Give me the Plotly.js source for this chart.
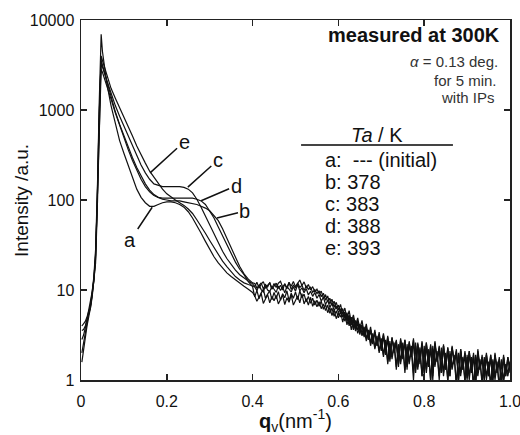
<!DOCTYPE html>
<html>
<head>
<meta charset="utf-8">
<script src="https://cdn.plot.ly/plotly-3.0.1.min.js"></script>
<style>html,body{margin:0;padding:0;background:#fff;}#chart{width:520px;height:435px;}</style>
</head>
<body>
<div id="chart"></div>
<script>
// scattering vector q_v (nm^-1), shared by all curves
const q = [0.002,0.006,0.010,0.014,0.018,0.022,0.026,0.030,0.034,0.038,0.042,0.045,0.047,
0.05,0.06,0.07,0.08,0.09,0.10,0.11,0.12,0.13,0.14,0.15,0.16,0.17,0.18,0.19,0.20,0.21,0.22,0.23,0.24,0.25,0.26,0.27,0.28,0.29,0.30,0.31,0.32,0.33,0.34,0.35,0.36,0.37,0.38,0.39,0.40,
0.405,0.410,0.415,0.420,0.425,0.430,0.435,0.440,0.445,0.450,
0.455,0.460,0.465,0.470,0.475,0.480,0.485,0.490,0.495,0.500,
0.505,0.510,0.515,0.520,0.525,0.530,0.535,0.540,0.545,0.550,
0.555,0.560,0.565,0.570,0.575,0.580,0.585,0.590,0.595,0.600,
0.605,0.610,0.615,0.620,0.625,0.630,0.635,0.640,0.645,0.650,
0.655,0.660,0.665,0.670,0.675,0.680,0.685,0.690,0.695,0.700,
0.705,0.710,0.715,0.720,0.725,0.730,0.735,0.740,0.745,0.750,
0.755,0.760,0.765,0.770,0.775,0.780,0.785,0.790,0.795,0.800,
0.805,0.810,0.815,0.820,0.825,0.830,0.835,0.840,0.845,0.850,
0.855,0.860,0.865,0.870,0.875,0.880,0.885,0.890,0.895,0.900,
0.905,0.910,0.915,0.920,0.925,0.930,0.935,0.940,0.945,0.950,
0.955,0.960,0.965,0.970,0.975,0.980,0.985,0.990,0.995,1.000];

// a: initial
const I_a = [1.58,2.24,3.16,3.98,5.01,6.31,8.91,12.6,22.4,100,1000,3980,6920,
4470,2000,1120,692,457,331,240,174,132,107,93.3,85.1,85.1,89.1,93.3,95.5,95.5,93.3,89.1,83.2,74.1,63.1,52.5,42.7,34.7,28.2,23.4,20.0,17.4,15.5,14.1,12.9,12.0,11.0,10.2,9.4,
8.6,7.5,8.3,9.2,7.1,8.0,8.9,7.2,8.5,7.6,
8.7,7.0,8.0,8.8,6.9,8.2,7.3,8.9,6.8,7.8,
8.6,7.2,9.1,7.0,8.0,6.8,8.3,6.6,7.6,6.5,
7.4,6.2,7.0,5.9,6.8,5.5,6.3,5.1,5.9,4.9,
5.8,4.4,5.4,4.1,5.1,3.6,4.6,3.5,4.3,3.2,
4.1,3.0,3.8,2.8,3.6,2.5,3.4,2.4,3.2,2.1,
3.2,1.9,2.9,1.6,3.0,2.0,2.6,1.4,2.8,1.7,
2.7,1.3,2.5,1.8,2.9,1.2,2.4,1.5,2.6,1.1,
2.5,1.4,2.3,1.0,2.6,1.6,2.2,1.2,2.4,1.3,
2.2,1.1,2.3,1.5,2.0,0.95,2.1,1.3,1.9,1.0,
2.0,1.2,1.8,0.9,2.1,1.3,1.7,1.0,1.9,1.1,
1.8,0.95,1.9,1.2,1.6,0.9,1.8,1.1,1.7,1.3];
// b: Ta = 378 K
const I_b = [3.98,4.17,4.47,5.01,5.62,6.61,8.91,13.2,25.1,100,794,2510,3550,
3160,2090,1350,955,692,513,389,295,229,182,151,129,115,107,102,100,97.7,97.7,97.7,95.5,93.3,91.2,89.1,85.1,81.3,75.9,67.6,58.9,47.9,37.2,28.8,22.4,18.2,15.1,13.2,12.0,
11.8,10.5,11.2,12.0,10.3,11.5,10.8,12.1,10.2,11.0,
11.9,10.4,11.3,10.0,11.7,10.6,12.2,10.1,11.4,10.5,
12.0,10.7,11.3,9.9,11.1,10.2,10.7,9.4,10.1,9.1,
9.8,8.4,9.2,7.7,8.6,7.0,7.9,6.4,7.3,6.0,
6.9,5.4,6.3,4.8,5.9,4.4,5.3,4.0,4.9,3.7,
4.6,3.3,4.2,3.0,3.9,2.7,3.6,2.5,3.4,2.3,
3.3,2.1,3.1,1.8,2.9,2.2,2.7,1.6,2.9,1.9,
2.8,1.5,2.6,1.9,2.8,1.4,2.5,1.7,2.7,1.3,
2.6,1.5,2.4,1.2,2.7,1.7,2.3,1.3,2.5,1.4,
2.3,1.2,2.4,1.6,2.1,1.1,2.2,1.4,2.0,1.15,
2.1,1.3,1.9,1.0,2.2,1.4,1.8,1.1,2.0,1.2,
1.9,1.05,2.0,1.3,1.7,1.0,1.9,1.2,1.8,1.4];
// c: Ta = 383 K
const I_c = [2.82,3.16,3.80,4.79,5.62,7.08,9.55,14.1,28.2,126,794,2240,3160,
3020,2140,1510,1120,851,661,513,398,309,245,200,170,151,145,141,141,141,141,141,138,132,120,102,83.2,66.1,52.5,41.7,33.1,26.9,22.4,19.1,16.6,14.8,13.5,12.6,11.7,
10.9,12.2,10.5,11.6,12.4,10.6,11.3,12.0,10.4,11.8,
10.7,11.9,12.5,10.8,11.6,10.3,12.1,11.0,12.4,10.9,
11.8,12.9,11.2,12.3,10.6,11.5,10.0,10.9,9.5,10.2,
9.1,9.7,8.1,8.9,7.4,8.1,6.8,7.5,6.2,6.8,
5.7,6.2,4.9,5.6,4.3,5.0,3.9,4.6,3.6,4.2,
3.3,3.9,2.9,3.6,2.6,3.3,2.3,3.1,2.1,2.9,
1.9,2.8,1.6,2.7,1.8,2.6,1.4,2.5,1.6,2.6,
1.3,2.5,1.6,2.4,1.2,2.6,1.4,2.3,1.1,2.4,
1.3,2.2,1.0,2.4,1.5,2.1,1.1,2.3,1.2,2.0,
1.0,2.1,1.4,1.9,0.9,2.0,1.2,1.8,1.0,1.9,
1.1,1.8,0.85,1.9,1.2,1.7,0.95,1.8,1.1,1.6,
0.9,1.7,1.1,1.6,0.85,1.7,1.0,1.5,1.2,1.6];
// d: Ta = 388 K
const I_d = [2.00,2.63,3.55,4.47,5.50,6.76,8.91,13.2,24.0,100,708,2000,2820,
2630,1910,1320,933,676,490,363,275,214,170,141,123,112,107,105,105,105,105,107,107,107,105,102,97.7,89.1,75.9,63.1,50.1,39.8,31.6,25.1,20.4,17.0,14.8,12.4,10.9,
8.4,9.9,8.0,9.3,10.2,8.1,9.0,9.8,7.8,9.4,
8.0,9.6,7.7,9.1,8.2,9.8,7.6,9.2,8.1,9.5,
7.8,9.8,8.2,9.0,7.4,8.5,7.1,8.1,6.8,7.7,
6.6,7.5,6.1,6.9,5.6,6.4,5.2,6.0,4.8,5.6,
5.0,5.7,4.5,5.2,4.0,4.7,3.6,4.3,3.3,3.9,
3.1,3.7,2.7,3.4,2.4,3.1,2.2,2.9,2.0,2.7,
1.8,2.6,1.5,2.5,1.7,2.4,1.3,2.3,1.5,2.4,
1.2,2.3,1.5,2.2,1.0,2.4,1.3,2.1,1.1,2.2,
1.2,2.1,0.95,2.2,1.4,2.0,1.0,2.1,1.1,1.9,
0.95,1.9,1.3,1.8,0.85,1.9,1.1,1.7,0.95,1.8,
1.0,1.7,0.8,1.8,1.1,1.6,0.9,1.7,1.0,1.5,
0.85,1.6,1.0,1.5,0.8,1.6,0.95,1.4,1.1,1.5];
// e: Ta = 393 K
const I_e = [3.55,3.63,3.98,4.68,5.37,6.31,8.32,12.0,20.0,79.4,631,2240,3980,
3550,2400,1740,1350,1070,851,661,513,398,316,257,209,178,151,132,117,107,100,93.3,87.1,79.4,70.8,60.3,51.3,42.7,35.5,29.5,24.5,20.9,18.2,15.8,14.1,12.9,12.0,11.5,11.0,
10.9,9.8,11.4,10.1,9.5,11.2,10.0,9.6,11.0,10.2,
9.4,11.1,9.9,10.8,9.3,11.0,10.1,9.5,10.9,9.7,
11.5,9.8,10.6,9.3,10.4,8.8,9.7,8.5,9.4,8.1,
8.9,7.5,8.3,6.9,7.7,6.4,7.1,5.9,6.6,5.6,
6.2,5.0,5.7,4.5,5.3,4.1,4.9,3.7,4.5,3.5,
4.1,3.1,3.9,2.8,3.6,2.6,3.4,2.4,3.2,2.2,
3.1,2.0,3.0,1.7,2.9,2.1,2.8,1.5,2.7,1.8,
2.8,1.4,2.7,1.8,2.6,1.3,2.6,1.6,2.5,1.2,
2.6,1.4,2.5,1.1,2.5,1.6,2.4,1.2,2.4,1.3,
2.3,1.1,2.3,1.5,2.2,1.0,2.2,1.3,2.1,1.05,
2.1,1.2,2.0,0.95,2.0,1.3,1.9,1.0,1.9,1.1,
1.9,1.0,1.9,1.2,1.8,0.9,1.8,1.1,1.8,1.2];

const curves = [I_a, I_b, I_c, I_d, I_e];
const legendRows = ['a:  --- (initial)', 'b: 378', 'c: 383', 'd: 388', 'e: 393'];
const xTicks = [0, 0.2, 0.4, 0.6, 0.8, 1.0];
const xTickText = ['0', '0.2', '0.4', '0.6', '0.8', '1.0'];
const yTicks = [1, 10, 100, 1000, 10000];
const yTickText = ['1', '10', '100', '1000', '10000'];
// curve-label anchor points on the curves: [label, q, intensity, ax, ay]
const curveLabels = [
  ['e', 0.161, 200, 34, -31],
  ['c', 0.249, 139, 30, -27],
  ['d', 0.280, 98, 35, -15],
  ['b', 0.317, 63, 28, -7],
  ['a', 0.166, 83, -22, 33]
];

const FONT = 'Liberation Sans, Arial, Helvetica, sans-serif';

const traces = curves.map(function (I) {
  return {x: q, y: I, type: 'scatter', mode: 'lines',
          line: {color: '#111', width: 1.2}, showlegend: false, hoverinfo: 'skip'};
});

const ann = [];
curveLabels.forEach(function (c) {
  ann.push({x: c[1], y: Math.log10(c[2]), xref: 'x', yref: 'y', text: c[0],
    showarrow: true, arrowhead: 0, arrowwidth: 1.5, arrowcolor: '#111', ax: c[3], ay: c[4],
    standoff: 0, font: {family: FONT, size: 20, color: '#111'}});
});
ann.push({xref: 'paper', yref: 'paper', x: 0.981, y: 0.958, xanchor: 'right', yanchor: 'middle',
  text: '<b>measured at 300K</b>', showarrow: false, font: {family: FONT, size: 20, color: '#111'}});
ann.push({xref: 'paper', yref: 'paper', x: 0.977, y: 0.886, xanchor: 'right', yanchor: 'middle',
  text: '<i>α</i> = 0.13 deg.', showarrow: false, font: {family: FONT, size: 15, color: '#333'}});
ann.push({xref: 'paper', yref: 'paper', x: 0.974, y: 0.833, xanchor: 'right', yanchor: 'middle',
  text: 'for 5 min.', showarrow: false, font: {family: FONT, size: 15, color: '#333'}});
ann.push({xref: 'paper', yref: 'paper', x: 0.970, y: 0.786, xanchor: 'right', yanchor: 'middle',
  text: 'with IPs', showarrow: false, font: {family: FONT, size: 15, color: '#333'}});
ann.push({xref: 'paper', yref: 'paper', x: 0.69, y: 0.68, xanchor: 'center', yanchor: 'middle',
  text: '<i>Ta</i> / K', showarrow: false, font: {family: FONT, size: 20, color: '#111'}});
const rowY = [0.611, 0.55, 0.489, 0.428, 0.367];
legendRows.forEach(function (t, i) {
  ann.push({xref: 'paper', yref: 'paper', x: 0.565, y: rowY[i], xanchor: 'left', yanchor: 'middle',
    text: t, showarrow: false, font: {family: FONT, size: 20, color: '#111'}});
});
// y-axis title placed as an annotation to match the reference position
ann.push({xref: 'paper', yref: 'paper', x: -0.14, y: 0.5, xanchor: 'center', yanchor: 'middle',
  textangle: -90, text: 'Intensity /a.u.', showarrow: false, font: {family: FONT, size: 19, color: '#111'}});

const axisCommon = {
  showline: true, linewidth: 1.5, linecolor: '#222', mirror: 'ticks',
  ticks: 'inside', ticklen: 6, tickwidth: 1.5, tickcolor: '#222',
  showgrid: false, zeroline: false, ticklabeloverflow: 'allow',
  tickfont: {family: FONT, size: 16, color: '#111'}
};

const layout = {
  width: 520, height: 435,
  margin: {l: 81, r: 10, t: 20, b: 55},
  paper_bgcolor: '#fff', plot_bgcolor: '#fff',
  font: {family: FONT, color: '#111'},
  xaxis: Object.assign({}, axisCommon, {
    range: [0, 1], tickmode: 'array', tickvals: xTicks, ticktext: xTickText,
    ticklabelstandoff: 6,
    title: {text: '<b>q</b><sub>v</sub>(nm<sup>-1</sup>)', font: {family: FONT, size: 20, color: '#111'}, standoff: 6}
  }),
  yaxis: Object.assign({}, axisCommon, {
    type: 'log', range: [0, 4], tickmode: 'array', tickvals: yTicks, ticktext: yTickText,
    ticklabelstandoff: 2
  }),
  shapes: [{type: 'line', xref: 'paper', yref: 'paper', x0: 0.513, x1: 0.867, y0: 0.653, y1: 0.653,
            line: {color: '#444', width: 2}}],
  annotations: ann
};

Plotly.newPlot('chart', traces, layout, {staticPlot: true, displayModeBar: false});
</script>
</body>
</html>
